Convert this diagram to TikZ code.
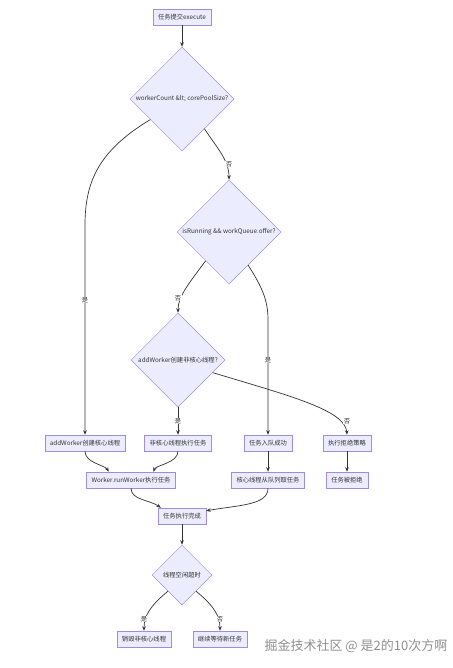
\documentclass[tikz,border=0pt]{standalone}
\usepackage{fontspec}
\setmainfont{Noto Sans CJK SC}
\usetikzlibrary{shapes.geometric,arrows.meta,calc}
\definecolor{nodefill}{HTML}{ECECFF}
\definecolor{nodeline}{HTML}{A08BE0}
\definecolor{edgecol}{HTML}{333333}
\definecolor{wmark}{HTML}{909090}
\begin{document}
\begin{tikzpicture}[x=1pt,y=1pt,
  every node/.style={font=\fontsize{6.3}{7}\selectfont, text=edgecol},
  boxnode/.style={draw=nodeline, fill=nodefill, line width=0.5pt, inner xsep=5pt, inner ysep=0pt, minimum height=16pt},
  decision/.style={draw=nodeline, fill=nodefill, line width=0.5pt, diamond, aspect=1, inner sep=0pt},
  edge/.style={draw=edgecol, line width=0.7pt, -{Stealth[length=4.5pt,width=3.6pt]}},
  elabel/.style={fill=white, inner sep=0.6pt}]
\useasboundingbox (0,0) rectangle (452,-668);
\fill[white] (0,0) rectangle (452,-668);

% nodes
\node[boxnode] (n1) at (182,-17) {任务提交execute};
\node[decision, minimum width=104pt, minimum height=104pt] (d1) at (182,-99) {workerCount \&lt; corePoolSize?};
\node[decision, minimum width=104pt, minimum height=104pt] (d2) at (229,-232) {isRunning \&\& workQueue.offer?};
\node[decision, minimum width=94pt, minimum height=94pt] (d3) at (178,-360) {addWorker创建非核心线程?};
\node[boxnode] (b1) at (85,-443) {addWorker创建核心线程};
\node[boxnode] (b2) at (178,-443) {非核心线程执行任务};
\node[boxnode] (b3) at (268,-443) {任务入队成功};
\node[boxnode] (b4) at (347,-443) {执行拒绝策略};
\node[boxnode] (b5) at (131,-480) {Worker.runWorker执行任务};
\node[boxnode] (b6) at (268,-480) {核心线程从队列取任务};
\node[boxnode] (b7) at (347,-480) {任务被拒绝};
\node[boxnode] (b8) at (182,-516) {任务执行完成};
\node[decision, minimum width=60pt, minimum height=60pt] (d4) at (182,-575) {线程空闲超时};
\node[boxnode] (b9) at (144,-639) {销毁非核心线程};
\node[boxnode] (b10) at (220,-639) {继续等待新任务};

% connectors
\draw[edge] (n1.south) -- (d1.north);
\draw[edge] (d1.213) .. controls (100,-150) and (85,-180) .. (85,-225) -- (b1.north);
\draw[edge] (d1.307) .. controls (217,-148) and (229,-160) .. (d2.north);
\draw[edge] (d2.231) .. controls (190,-282) and (178,-296) .. (d3.north);
\draw[edge] (d2.300) .. controls (262,-287) and (268,-300) .. (268,-320) -- (b3.north);
\draw[edge] (d3.south) -- (b2.north);
\draw[edge] (d3.340) .. controls (290,-396) and (345,-410) .. (b4.north);
\draw[edge] (b1.south) .. controls (85,-463) and (105,-465) .. ($(b5.north)!0.5!(b5.north west)$);
\draw[edge] (b2.south) .. controls (178,-463) and (156,-465) .. ($(b5.north)!0.5!(b5.north east)$);
\draw[edge] (b3.south) -- (b6.north);
\draw[edge] (b4.south) -- (b7.north);
\draw[edge] (b5.south) .. controls (131,-500) and (150,-500) .. ($(b8.north west)+(3,0)$);
\draw[edge] (b6.south) .. controls (268,-505) and (240,-505) .. ($(b8.north east)+(0,-3)$);
\draw[edge] (b8.south) -- (d4.north);
\draw[edge] (d4.229) .. controls (150,-606) and (144,-616) .. (b9.north);
\draw[edge] (d4.311) .. controls (214,-606) and (220,-616) .. (b10.north);

% edge labels
\node[elabel] (l1) at (85,-300) {是};
\node[elabel] (l2) at (229,-164) {否};
\node[elabel] (l3) at (178,-298) {否};
\node[elabel] (l4) at (268,-360) {是};
\node[elabel] (l5) at (178,-421) {是};
\node[elabel] (l6) at (347,-421) {否};
\node[elabel] (l7) at (144,-619) {是};
\node[elabel] (l8) at (220,-619) {否};

% watermark
\node[font=\fontsize{13}{15}\selectfont, text=wmark, anchor=west] (wm) at (261,-646) {掘金技术社区 @ 是2的10次方啊};
\end{tikzpicture}
\end{document}
